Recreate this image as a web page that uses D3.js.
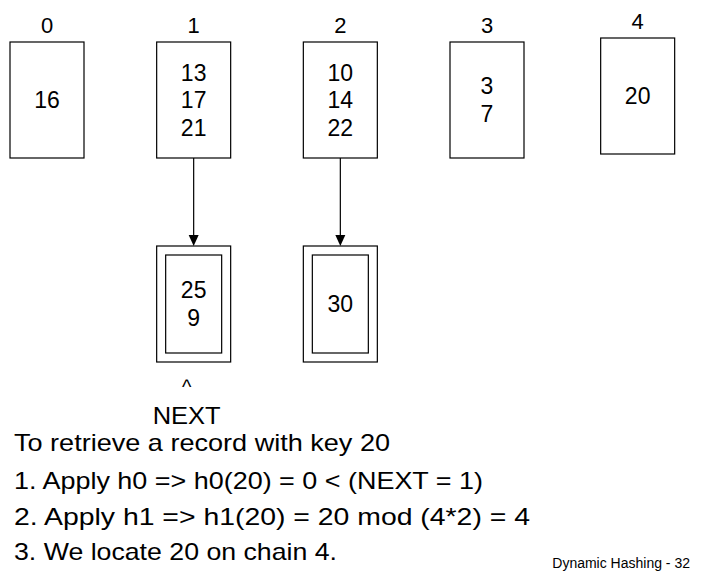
<!DOCTYPE html>
<html><head><meta charset="utf-8">
<script src="https://cdn.jsdelivr.net/npm/d3@7"></script>
<style>body{margin:0;background:#fff}text{font-family:Arial,"Liberation Sans",sans-serif}</style>
</head><body><svg id="c" width="702" height="577"></svg>
<script>
const buckets = ["0","1","2","3","4"];
const contents = [["16"],["13","17","21"],["10","14","22"],["3","7"],["20"]];
const overflow = [null,["25","9"],["30"],null,null];
const lines = ["To retrieve a record with key 20","1. Apply h0 => h0(20) = 0 < (NEXT = 1)","2. Apply h1 => h1(20) = 20 mod (4*2) = 4","3. We locate 20 on chain 4."];
const lineWidths = [376, 469, 516, 323];
const nextBucket = 1;

const svg = d3.select("#c");
const x = d3.scaleLinear().domain([0,3]).range([47,487]);
const bx = i => x(i) + (i === 4 ? 4 : 0);
const bw = 74, bh = 116;
const dy = i => i === 4 ? -4 : 0;

const g = svg.selectAll("g.b").data(buckets).enter().append("g");
g.append("rect").attr("x",(d,i)=>bx(i)-bw/2).attr("y",(d,i)=>42+dy(i))
  .attr("width",bw).attr("height",bh).attr("fill","none").attr("stroke","#000").attr("stroke-width",1.2);
g.append("text").attr("x",(d,i)=>bx(i)).attr("y",(d,i)=>33+dy(i)).attr("text-anchor","middle")
  .attr("font-size",22).text(d=>d);
g.each(function(d,i){
  const c = contents[i], n = c.length;
  d3.select(this).selectAll("text.v").data(c).enter().append("text")
    .attr("x",bx(i)).attr("y",(v,j)=>42+dy(i)+bh/2+(j-(n-1)/2)*27.5+8)
    .attr("text-anchor","middle").attr("font-size",23).text(v=>v);
  const o = overflow[i];
  if (!o) return;
  const s = d3.select(this);
  s.append("line").attr("x1",bx(i)).attr("x2",bx(i)).attr("y1",158).attr("y2",240).attr("stroke","#000").attr("stroke-width",1.2);
  s.append("path").attr("d",`M${bx(i)-5},235L${bx(i)},246L${bx(i)+5},235Z`).attr("fill","#000");
  s.append("rect").attr("x",bx(i)-bw/2).attr("y",246).attr("width",bw).attr("height",116).attr("fill","none").attr("stroke","#000").attr("stroke-width",1.2);
  s.append("rect").attr("x",bx(i)-bw/2+9).attr("y",255).attr("width",bw-18).attr("height",98).attr("fill","none").attr("stroke","#000").attr("stroke-width",1.2);
  s.selectAll("text.o").data(o).enter().append("text")
    .attr("x",bx(i)).attr("y",(v,j)=>304+(j-(o.length-1)/2)*28+8)
    .attr("text-anchor","middle").attr("font-size",23).text(v=>v);
});

svg.append("text").attr("x",bx(nextBucket)-7).attr("y",394).attr("text-anchor","middle").attr("font-size",20).text("^");
svg.append("text").attr("x",bx(nextBucket)-7).attr("y",424).attr("text-anchor","middle").attr("font-size",23)
  .attr("textLength",68).attr("lengthAdjust","spacingAndGlyphs").text("NEXT");

svg.selectAll("text.l").data(lines).enter().append("text")
  .attr("x",14).attr("y",(d,i)=>[451,489,525,560][i]).attr("font-size",24)
  .attr("textLength",(d,i)=>lineWidths[i]).attr("lengthAdjust","spacingAndGlyphs").text(d=>d);
svg.append("text").attr("x",690).attr("y",568).attr("text-anchor","end").attr("font-size",14).text("Dynamic Hashing - 32");
</script></body></html>
